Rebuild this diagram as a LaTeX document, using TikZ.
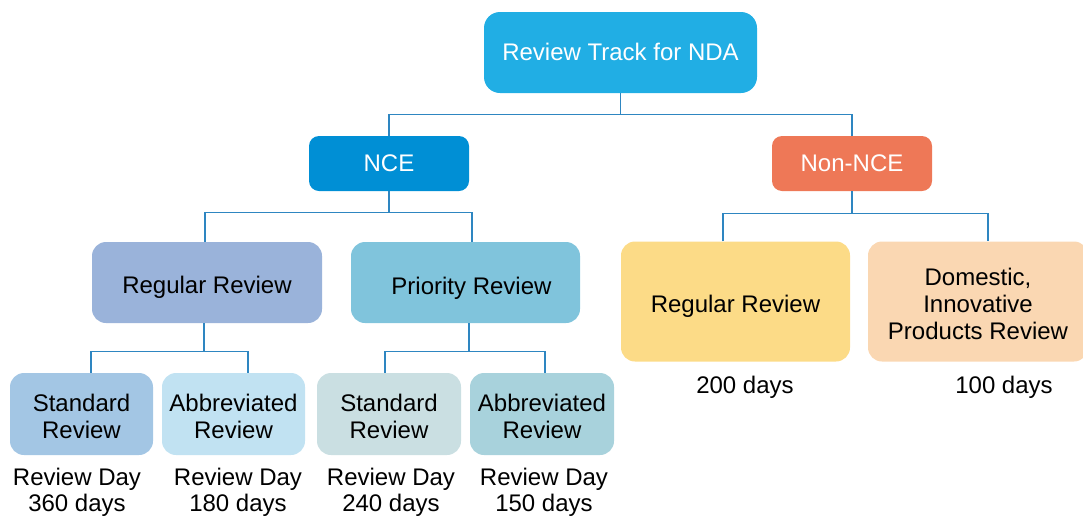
\documentclass[tikz,border=0pt]{standalone}
\usepackage{fontspec}
\setmainfont{Liberation Sans}
\usetikzlibrary{positioning,calc}
\definecolor{ctop}{RGB}{33,174,228}
\definecolor{cnce}{RGB}{0,143,213}
\definecolor{cnon}{RGB}{238,120,87}
\definecolor{crr}{RGB}{154,179,218}
\definecolor{cpr}{RGB}{128,196,220}
\definecolor{crrb}{RGB}{252,219,135}
\definecolor{cdom}{RGB}{250,215,178}
\definecolor{cstda}{RGB}{163,198,228}
\definecolor{cabba}{RGB}{193,226,242}
\definecolor{cstdb}{RGB}{202,223,226}
\definecolor{cabbb}{RGB}{168,210,220}
\definecolor{linecol}{RGB}{46,134,193}
\newcommand{\tx}[2]{\raisebox{-#1}[\height][\depth]{\begin{tabular}{@{}c@{}}#2\end{tabular}}}
\tikzset{
  box/.style={rounded corners=14pt, inner sep=0pt,
    font=\fontsize{24}{27}\selectfont, text=black},
  whitebox/.style={box, text=white},
  lbl/.style={inner sep=0pt, align=center, font=\fontsize{24}{26.6}\selectfont},
  conn/.style={draw=linecol, line width=1.4pt}
}
\begin{document}
\begin{tikzpicture}[x=1pt,y=-1pt]
\useasboundingbox (0,0) rectangle (1083,515);
% level 0
\node[whitebox, fill=ctop, minimum width=273, minimum height=81, rounded corners=16pt] (top) at (620.5,52.5) {\tx{2.4pt}{Review Track for NDA}};
% level 1
\node[whitebox, fill=cnce, minimum width=160, minimum height=55, rounded corners=10pt] (nce) at (389,163.5) {\tx{3pt}{NCE}};
\node[whitebox, fill=cnon, minimum width=160, minimum height=55, rounded corners=10pt] (non) at (852,163.5) {\tx{3pt}{Non-NCE}};
% level 2
\node[box, fill=crr, minimum width=230, minimum height=81] (rr) at (207,282.5) {\tx{5.7pt}{Regular Review}};
\node[box, fill=cpr, minimum width=229, minimum height=81] (pr) at (465.5,282.5) {\hspace*{12pt}\tx{6.7pt}{Priority Review}};
\node[box, fill=crrb, minimum width=229, minimum height=120] (rrb) at (735.5,301.5) {\tx{5.7pt}{Regular Review}};
\node[box, fill=cdom, minimum width=220, minimum height=120] (dom) at (978,301.5) {\tx{5.4pt}{Domestic,\\Innovative\\Products Review}};
% level 3
\node[box, fill=cstda, minimum width=143, minimum height=82] (stda) at (81.5,414) {\tx{6pt}{Standard\\Review}};
\node[box, fill=cabba, minimum width=143, minimum height=82] (abba) at (233.5,414) {\tx{6pt}{Abbreviated\\Review}};
\node[box, fill=cstdb, minimum width=144, minimum height=82] (stdb) at (389,414) {\tx{6pt}{Standard\\Review}};
\node[box, fill=cabbb, minimum width=144, minimum height=82] (abbb) at (542,414) {\tx{6pt}{Abbreviated\\Review}};
% labels
\node[lbl] (la) at (77,492.4) {Review Day\\360 days};
\node[lbl] (lb) at (238,492.4) {Review Day\\180 days};
\node[lbl] (lc) at (391,492.4) {Review Day\\240 days};
\node[lbl] (ld) at (544,492.4) {Review Day\\150 days};
\node[lbl] (le) at (745,387.4) {200 days};
\node[lbl] (lf) at (1004,387.4) {100 days};
% connectors
\draw[conn] (top.south) -- ++(0,21);
\draw[conn] (nce.north) |- ($(top.south)+(0,21)$) -| (non.north);
\draw[conn] (nce.south) -- ++(0,21);
\draw[conn] ([xshift=-2]rr.north) |- ($(nce.south)+(0,21)$) -| ([xshift=6.5]pr.north);
\draw[conn] (non.south) -- ++(0,22.5);
\draw[conn] ([xshift=-12.5]rrb.north) |- ($(non.south)+(0,22.5)$) -| ([xshift=10]dom.north);
\draw[conn] ([xshift=-3]rr.south) -- ++(0,28);
\draw[conn] ([xshift=9.5]stda.north) |- ($(rr.south)+(-3,28)$) -| ([xshift=14.5]abba.north);
\draw[conn] ([xshift=3.5]pr.south) -- ++(0,28);
\draw[conn] ([xshift=-4]stdb.north) |- ($(pr.south)+(3.5,28)$) -| ([xshift=3]abbb.north);
\end{tikzpicture}
\end{document}
